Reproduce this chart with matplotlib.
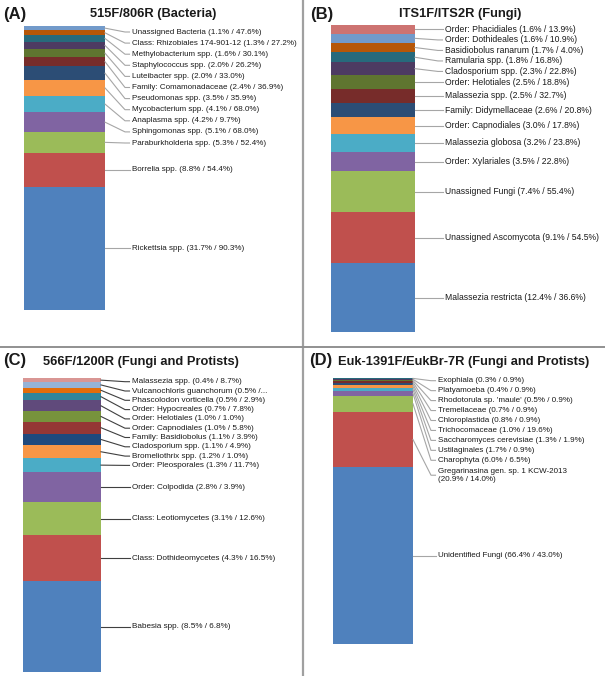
import matplotlib
matplotlib.use("Agg")
import numpy as np
import matplotlib.pyplot as plt
from matplotlib.lines import Line2D

plt.rcParams['font.family'] = ['Liberation Sans', 'DejaVu Sans']

W, H, DPI = 605, 676, 100

# ---------------- data (listed top -> bottom, as in the labels) ----------------
a_title = "515F/806R (Bacteria)"
a_names = ["Unassigned Bacteria", "Class: Rhizobiales 174-901-12", "Methylobacterium spp.",
           "Staphylococcus spp.", "Luteibacter spp.", "Family: Comamonadaceae",
           "Pseudomonas spp.", "Mycobacterium spp.", "Anaplasma spp.", "Sphingomonas spp.",
           "Paraburkholderia spp.", "Borrelia spp.", "Rickettsia spp."]
a_share = [1.1, 1.3, 1.6, 2.0, 2.0, 2.4, 3.5, 4.1, 4.2, 5.1, 5.3, 8.8, 31.7]
a_other = [47.6, 27.2, 30.1, 26.2, 33.0, 36.9, 35.9, 68.0, 9.7, 68.0, 52.4, 54.4, 90.3]

b_title = "ITS1F/ITS2R (Fungi)"
b_names = ["Order: Phacidiales", "Order: Dothideales", "Basidiobolus ranarum",
           "Ramularia spp.", "Cladosporium spp.", "Order: Helotiales", "Malassezia spp.",
           "Family: Didymellaceae", "Order: Capnodiales", "Malassezia globosa",
           "Order: Xylariales", "Unassigned Fungi", "Unassigned Ascomycota",
           "Malassezia restricta"]
b_share = [1.6, 1.6, 1.7, 1.8, 2.3, 2.5, 2.5, 2.6, 3.0, 3.2, 3.5, 7.4, 9.1, 12.4]
b_other = [13.9, 10.9, 4.0, 16.8, 22.8, 18.8, 32.7, 20.8, 17.8, 23.8, 22.8, 55.4, 54.5, 36.6]

c_title = "566F/1200R (Fungi and Protists)"
c_names = ["Malassezia spp.", "Vulcanochloris guanchorum", "Phascolodon vorticella",
           "Order: Hypocreales", "Order: Helotiales", "Order: Capnodiales",
           "Family: Basidiobolus", "Cladosporium spp.", "Bromeliothrix spp.",
           "Order: Pleosporales", "Order: Colpodida", "Class: Leotiomycetes",
           "Class: Dothideomycetes", "Babesia spp."]
c_share = [0.4, 0.5, 0.5, 0.7, 1.0, 1.0, 1.1, 1.1, 1.2, 1.3, 2.8, 3.1, 4.3, 8.5]
c_other = [8.7, None, 2.9, 7.8, 1.0, 5.8, 3.9, 4.9, 1.0, 11.7, 3.9, 12.6, 16.5, 6.8]

d_title = "Euk-1391F/EukBr-7R (Fungi and Protists)"
d_names = ["Exophiala", "Platyamoeba", "Rhodotorula sp. 'maule'", "Tremellaceae",
           "Chloroplastida", "Trichocomaceae", "Saccharomyces cerevisiae", "Ustilaginales",
           "Charophyta", "Gregarinasina gen. sp. 1 KCW-2013", "Unidentified Fungi"]
d_share = [0.3, 0.4, 0.5, 0.7, 0.8, 1.0, 1.3, 1.7, 6.0, 20.9, 66.4]
d_other = [0.9, 0.9, 0.9, 0.9, 0.9, 19.6, 1.9, 0.9, 6.5, 14.0, 43.0]

WRAP = {"Gregarinasina gen. sp. 1 KCW-2013"}

# ---------------- styles ----------------
PAL_2010 = ['#4F81BD', '#C0504D', '#9BBB59', '#8064A2', '#4BACC6', '#F79646',
            '#2C4D75', '#772C2A', '#5F7530', '#4D3B62', '#276A7C', '#B65708',
            '#729ACA', '#CD7371']
PAL_C = ['#4F81BD', '#C0504D', '#9BBB59', '#8064A2', '#4BACC6', '#F79646',
         '#1F497D', '#953735', '#77933C', '#604A7B', '#31859C', '#E46C0A',
         '#95B3D7', '#D99694']
TXT = '#1a1a1a'

fig = plt.figure(figsize=(W / DPI, H / DPI), dpi=DPI)


def fx(x):
    return x / W


def fy(y):  # pixel y measured from top
    return 1 - y / H


def label_text(name, a, b):
    bpart = f"{b:.1f}%)" if b is not None else "..."
    sep = "\n" if name in WRAP else " "
    if b is None:
        return f"{name} ({a:.1f}% /{bpart}"
    return f"{name}{sep}({a:.1f}% / {bpart}"


def panel(names, share, other, pal, bar_px, text_x, gap, top_m, fs, lcol):
    x0, x1, y0, y1 = bar_px
    ax = fig.add_axes([fx(x0), fy(y1), fx(x1 - x0), (y1 - y0) / H])
    ax.set_axis_off()
    vals = np.array(share[::-1], dtype=float)
    bottoms = np.concatenate([[0], np.cumsum(vals)[:-1]])
    n = len(vals)
    ax.bar(np.zeros(n), vals, bottom=bottoms, width=1.0, color=pal[:n],
           linewidth=0, align='center')
    ax.set_xlim(-0.5, 0.5)
    ax.set_ylim(0, vals.sum())

    # segment centres (top->bottom order) in display pixels
    centres_data = (bottoms + vals / 2)[::-1]
    pts = ax.transData.transform(np.column_stack([np.full(n, 0.5), centres_data]))
    bar_right = pts[:, 0]
    cy = pts[:, 1]
    top_disp = ax.transData.transform((0.5, vals.sum()))[1]

    texts = [label_text(nm, a, b) for nm, a, b in zip(names, share, other)]
    nlines = [t.count("\n") + 1 for t in texts]
    ys = []
    for i in range(n):
        if i == 0:
            y = min(cy[i], top_disp - top_m)
        else:
            y = min(cy[i], ys[-1] - gap * (nlines[i - 1] + nlines[i]) / 2)
        ys.append(y)

    for i in range(n):
        xs = [bar_right[i], text_x - 7, text_x - 2.5]
        yy = [cy[i], ys[i], ys[i]]
        fig.add_artist(Line2D([fx(v) for v in xs], [v / H for v in yy],
                              transform=fig.transFigure, color=lcol, lw=0.8))
        fig.text(fx(text_x), ys[i] / H, texts[i], fontsize=fs, color=TXT,
                 ha='left', va='center', linespacing=1.25)


panel(a_names, a_share, a_other, PAL_2010, (24, 105, 26, 310), 132, 11.1, 6, 5.75, '#A6A6A6')
panel(b_names, b_share, b_other, PAL_2010, (331, 415, 25, 332), 445, 10.5, 4, 6.25, '#A6A6A6')
panel(c_names, c_share, c_other, PAL_C, (23, 101, 378, 672), 132, 9.3, 3.7, 5.85, '#404040')
panel(d_names, d_share, d_other, PAL_2010, (333, 413, 378, 644), 438, 9.95, 2.7, 5.8, '#A6A6A6')

# titles
for lab, lx, ly in [("(A)", 3, 15), ("(B)", 310, 15), ("(C)", 3, 361), ("(D)", 309, 361)]:
    fig.text(fx(lx), fy(ly), lab, fontsize=12, fontweight='bold', color=TXT,
             ha='left', va='center')
for t, tx, ty in [(a_title, 90, 14), (b_title, 399, 14.5), (c_title, 43, 362), (d_title, 338, 362)]:
    fig.text(fx(tx), fy(ty), t, fontsize=9.3, fontweight='bold', color=TXT,
             ha='left', va='center')

# dividers
fig.add_artist(Line2D([fx(303), fx(303)], [0, 1], transform=fig.transFigure,
                      color='#A0A0A0', lw=1.6))
fig.add_artist(Line2D([0, 1], [fy(346.5), fy(346.5)], transform=fig.transFigure,
                      color='#909090', lw=1.4))

fig.savefig("out.png", dpi=DPI)
